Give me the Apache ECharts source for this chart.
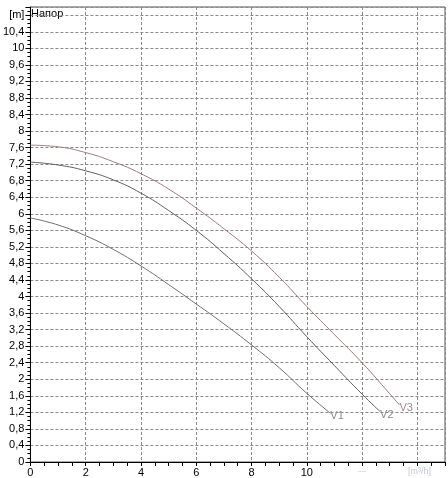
<!DOCTYPE html>
<html>
<head>
<meta charset="utf-8">
<script src="https://cdn.jsdelivr.net/npm/echarts@6/dist/echarts.min.js"></script>
<style>html,body{margin:0;padding:0;background:#fff}#c{width:448px;height:478px}</style>
</head>
<body>
<div id="c"></div>
<script>
// Data (flow [m3/h], head [m])
const v1 = [[0,5.9],[1,5.73],[2,5.47],[3,5.14],[4,4.74],[5,4.29],[6,3.82],[7,3.34],[8,2.83],[9,2.28],[10,1.66],[10.85,1.18]];
const v2 = [[0,7.25],[1,7.18],[2,7.04],[3,6.82],[4,6.5],[5,6.08],[6,5.6],[7,5.04],[8,4.43],[9,3.76],[10,3.03],[11,2.33],[12,1.64],[12.65,1.22]];
const v3 = [[0,7.66],[1,7.62],[2,7.48],[3,7.26],[4,6.97],[5,6.6],[6,6.14],[7,5.64],[8,5.1],[9,4.47],[10,3.76],[11,3.08],[12,2.4],[13,1.65],[13.35,1.38]];
const seriesNames = ['V1','V2','V3'];
const yUnitLabel = '[m]';
const plotTitle = 'Напор';
const xUnitLabel = '[m³/h]';
const xLabelMax = 10;

const chart = echarts.init(document.getElementById('c'), null, {renderer:'canvas'});
const font = 'Liberation Sans, Arial, sans-serif';
function mkSeries(name, data, color, labelColor){
  return {
    name, type:'line', data, smooth:0.5, symbol:'none',
    lineStyle:{color, width:1}, silent:true,
    endLabel:{show:true, formatter:name, color:labelColor, fontSize:11, fontFamily:font, distance:0, offset:[0,3]}
  };
}
chart.setOption({
  animation:false,
  grid:{left:28, top:7, right:3, bottom:16, show:true, borderColor:'#555', borderWidth:1},
  xAxis:{
    type:'value', min:0, max:15, interval:2,
    axisLine:{lineStyle:{color:'#000', width:1}},
    axisTick:{show:true, length:4, lineStyle:{color:'#000'}},
    minorTick:{show:true, splitNumber:4, length:4, lineStyle:{color:'#000'}},
    axisLabel:{color:'#000', fontSize:11, fontFamily:font, margin:5,
      formatter:v=> v<=xLabelMax ? String(v) : ''},
    splitLine:{show:true, lineStyle:{color:'#8a8a8a', type:[3,2], width:1}}
  },
  yAxis:{
    type:'value', min:0, max:11, interval:0.4,
    axisLine:{show:true, lineStyle:{color:'#000', width:1}},
    axisTick:{show:true, length:5, lineStyle:{color:'#000'}},
    minorTick:{show:true, splitNumber:4, length:3, lineStyle:{color:'#000'}},
    axisLabel:{color:'#000', fontSize:11, fontFamily:font, margin:6,
      formatter:v=>{
        if (Math.abs(v-10.8)<1e-6) return yUnitLabel;
        if (v>10.85) return '';
        return (Math.round(v*10)/10).toString().replace('.',',');
      }},
    splitLine:{show:true, lineStyle:{color:'#8a8a8a', type:[3,2], width:1}}
  },
  graphic:[
    {type:'text', left:31, top:8, style:{text:plotTitle, fill:'#000', font:'11px '+font}},
    {type:'text', left:408, top:467, style:{text:xUnitLabel, fill:'#c4c8d4', font:'9px '+font}},
    {type:'text', left:358, top:467, style:{text:'—', fill:'#c4c8d4', font:'8px '+font}}
  ],
  series:[
    mkSeries(seriesNames[0], v1, '#6e6e6e', '#8a8a8a'),
    mkSeries(seriesNames[1], v2, '#5e5e5e', '#8a8a8a'),
    mkSeries(seriesNames[2], v3, '#a07a80', '#a08890')
  ]
});
</script>
</body>
</html>
